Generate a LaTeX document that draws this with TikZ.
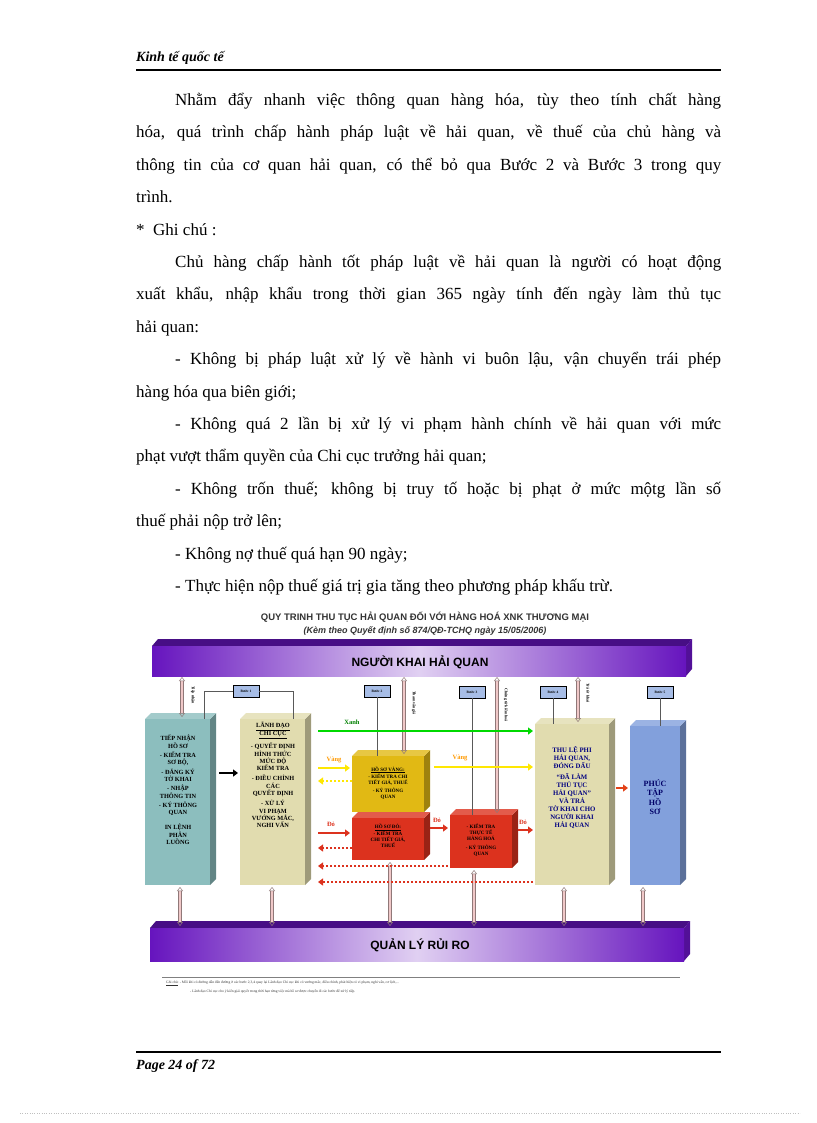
\documentclass[tikz,border=0pt]{standalone}
\usepackage{fontspec}
\setmainfont{Liberation Serif}
\newfontfamily\dsans{Liberation Sans}
\usetikzlibrary{arrows.meta}
\definecolor{purp}{RGB}{102,20,190}
\definecolor{tealb}{RGB}{140,190,190}
\definecolor{beig}{RGB}{225,220,175}
\definecolor{yel}{RGB}{225,185,20}
\definecolor{redb}{RGB}{220,50,30}
\definecolor{blub}{RGB}{130,160,220}
\definecolor{pinkarr}{RGB}{240,200,200}
\newcommand{\cube}[5]{%
 \fill[#5!70!black] (#3,#2) -- (#3+6,#2-6) -- (#3+6,#4-6) -- (#3,#4) -- cycle;
 \fill[#5!80!white] (#1,#2) -- (#1+6,#2-6) -- (#3+6,#2-6) -- (#3,#2) -- cycle;
 \fill[#5] (#1,#2) rectangle (#3,#4);}
\tikzset{
 body/.style={font=\fontsize{17}{32.4}\selectfont,anchor=north west,inner sep=0pt,text width=585pt,align=justify},
 bt/.style={font=\fontsize{6.3}{7.3}\selectfont\bfseries,align=center,inner sep=0pt},
 buoc/.style={draw=black,fill=blub!70!white,minimum width=26pt,minimum height=12pt,inner sep=0pt,font=\fontsize{3.5}{4}\selectfont\bfseries},
 darr/.style={draw=pinkarr!60!black,double=pinkarr,double distance=2.5pt,line width=0.5pt,{Triangle[open,length=4pt,width=6pt]}-{Triangle[open,length=4pt,width=6pt]}},
 sarr/.style={line width=2pt,-{Triangle[length=5pt,width=7pt]}},
 lab/.style={font=\fontsize{6.5}{7}\selectfont\bfseries,inner sep=1pt},
 vlab/.style={font=\fontsize{4}{5}\selectfont\bfseries,rotate=-90,inner sep=0pt},
 conn/.style={draw=gray!70!black,line width=0.7pt}
}
\begin{document}
\begin{tikzpicture}[x=1pt,y=-1pt]
\useasboundingbox (0,0) rectangle (816,1123);
% header / footer
\node[font=\fontsize{14}{16}\selectfont\bfseries\itshape,anchor=west,inner sep=0pt] (hd) at (136,58) {Kinh tế quốc tế};
\draw[line width=1.2pt] (136,70) -- (721,70);
\draw[line width=1.2pt] (136,1052) -- (721,1052);
\node[font=\fontsize{14}{16}\selectfont\bfseries\itshape,anchor=west,inner sep=0pt] (ft) at (136,1066) {Page 24 of 72};
\draw[gray!50,dotted] (20,1113) -- (800,1113);
% body
\node[body] (p1) at (136,93) {%
\hspace*{39pt}Nhằm đẩy nhanh việc thông quan hàng hóa, tùy theo tính chất hàng\linebreak
hóa, quá trình chấp hành pháp luật về hải quan, về thuế của chủ hàng và\linebreak
thông tin của cơ quan hải quan, có thể bỏ qua Bước 2 và Bước 3 trong quy\linebreak
trình.\par
*\ \ Ghi chú :\par
\hspace*{39pt}Chủ hàng chấp hành tốt pháp luật về hải quan là người có hoạt động\linebreak
xuất khẩu, nhập khẩu trong thời gian 365 ngày tính đến ngày làm thủ tục\linebreak
hải quan:\par
\hspace*{39pt}- Không bị pháp luật xử lý về hành vi buôn lậu, vận chuyển trái phép\linebreak
hàng hóa qua biên giới;\par
\hspace*{39pt}- Không quá 2 lần bị xử lý vi phạm hành chính về hải quan với mức\linebreak
phạt vượt thẩm quyền của Chi cục trưởng hải quan;\par
\hspace*{39pt}- Không trốn thuế; không bị truy tố hoặc bị phạt ở mức mộtg lần số\linebreak
thuế phải nộp trở lên;\par
\hspace*{39pt}- Không nợ thuế quá hạn 90 ngày;\par
\hspace*{39pt}- Thực hiện nộp thuế giá trị gia tăng theo phương pháp khấu trừ.};
% diagram title
\node[font=\dsans\fontsize{9.5}{10}\selectfont\bfseries,text=black!80] (t1) at (425,617) {QUY TRINH THU TỤC HẢI QUAN ĐỐI VỚI HÀNG HOÁ XNK THƯƠNG MẠI};
\node[font=\dsans\fontsize{9}{10}\selectfont\bfseries\itshape,text=black!80] (t2) at (425,631) {(Kèm theo Quyết định số 874/QĐ-TCHQ ngày 15/05/2006)};
% bars
\fill[purp!70!black] (152,646) -- (158,639) -- (692,639) -- (686,646) -- cycle;
\fill[purp!80!black] (686,646) -- (692,639) -- (692,669) -- (686,676) -- cycle;
\shade[left color=purp,right color=purp,middle color=purp!20!white] (152,646) rectangle (686,676);
\node[font=\dsans\fontsize{12}{14}\selectfont\bfseries] (top) at (420,662) {NGƯỜI KHAI HẢI QUAN};
\fill[purp!70!black] (150,928) -- (156,921) -- (690,921) -- (684,928) -- cycle;
\fill[purp!80!black] (684,928) -- (690,921) -- (690,954) -- (684,961) -- cycle;
\shade[left color=purp,right color=purp,middle color=purp!20!white] (150,928) rectangle (684,961);
\node[font=\dsans\fontsize{12}{14}\selectfont\bfseries] (bot) at (420,945) {QUẢN LÝ RỦI RO};
% boxes
\cube{145}{719}{210}{885}{tealb}
\cube{240}{719}{305}{885}{beig}
\cube{352}{756}{424}{812}{yel}
\cube{352}{818}{424}{860}{redb}
\cube{450}{815}{512}{868}{redb}
\cube{535}{724}{609}{885}{beig}
\cube{630}{726}{680}{885}{blub}
\node[bt] (b1) at (178,790) {TIẾP NHẬN\\HỒ SƠ\\[2pt]- KIỂM TRA\\SƠ BỘ,\\[2pt]- ĐĂNG KÝ\\TỜ KHAI\\[2pt]- NHẬP\\THÔNG TIN\\[2pt]- KÝ THÔNG\\QUAN\\[8pt]IN LỆNH\\PHÂN\\LUỒNG};
\node[bt] (b2) at (273,775) {\underline{LÃNH ĐẠO}\\\underline{CHI CỤC}\\[3pt]- QUYẾT ĐỊNH\\HÌNH THỨC\\MỨC ĐỘ\\KIỂM TRA\\[3pt]- ĐIỀU CHỈNH\\CÁC\\QUYẾT ĐỊNH\\[3pt]- XỬ LÝ\\VI PHẠM\\VƯỚNG MẮC,\\NGHI VẤN};
\node[bt,font=\fontsize{5}{6}\selectfont\bfseries] (b3) at (388,783) {\underline{HỒ SƠ VÀNG:}\\- KIỂM TRA CHI\\TIẾT GIÁ, THUẾ\\[2pt]- KÝ THÔNG\\QUAN};
\node[bt,font=\fontsize{5}{6}\selectfont\bfseries] (b4) at (388,836) {\underline{HỒ SƠ ĐỎ:}\\- KIỂM TRA\\CHI TIẾT GIÁ,\\THUẾ};
\node[bt,font=\fontsize{5}{6}\selectfont\bfseries] (b5) at (481,840) {- KIỂM TRA\\THỰC TẾ\\HÀNG HOÁ\\[3pt]- KÝ THÔNG\\QUAN};
\node[bt,text=blue!50!black,font=\fontsize{6.8}{8}\selectfont\bfseries] (b6) at (572,788) {THU LỆ PHI\\HẢI QUAN,\\ĐÓNG DẤU\\[3pt]“ĐÃ LÀM\\THỦ TỤC\\HẢI QUAN”\\VÀ TRẢ\\TỜ KHAI CHO\\NGƯỜI KHAI\\HẢI QUAN};
\node[bt,text=blue!40!black,font=\fontsize{8}{9.5}\selectfont\bfseries] (b7) at (655,797) {PHÚC\\TẬP\\HỒ\\SƠ};
% step labels
\node[buoc] (s1) at (246,691) {Bước 1};
\node[buoc] (s2) at (377,691) {Bước 2};
\node[buoc] (s3) at (472,692) {Bước 3};
\node[buoc] (s4) at (553,692) {Bước 4};
\node[buoc] (s5) at (660,692) {Bước 5};
\draw[conn] (204,719) |- (s1.west);
\draw[conn] (s1.east) -| (293,719);
\draw[conn] (s2.south) -- (377,756);
\draw[conn] (s3.south) -- (472,815);
\draw[conn] (s4.south) -- (553,724);
\draw[conn] (s5.south) -- (660,726);
% vertical double arrows
\draw[darr] (182,677) -- (182,717);
\node[vlab] (v1) at (193,695) {Tiếp nhận};
\draw[darr] (404,677) -- (404,754);
\node[vlab] (v2) at (414,703) {Tham vấn giá};
\draw[darr] (497,677) -- (497,813);
\node[vlab] (v3) at (506,705) {Chứng từ kiểm hoá};
\draw[darr] (578,677) -- (578,722);
\node[vlab] (v4) at (588,693) {Trả tờ khai};
\draw[darr] (180,887) -- (180,926);
\draw[darr] (272,887) -- (272,926);
\draw[darr] (390,862) -- (390,926);
\draw[darr] (474,870) -- (474,926);
\draw[darr] (564,887) -- (564,926);
\draw[darr] (643,887) -- (643,926);
% horizontal flows
\draw[sarr,black] (219,773) -- (238,773);
\draw[sarr,green!85!black] (318,731) -- (533,731);
\node[lab,text=green!50!black] (lx) at (352,722) {Xanh};
\draw[sarr,yellow!90!orange] (318,768) -- (350,768);
\node[lab,text=orange!80!yellow] (ly1) at (334,760) {Vàng};
\draw[sarr,yellow!90!orange,dotted] (352,781) -- (318,781);
\draw[sarr,yellow!90!orange] (434,767) -- (533,767);
\node[lab,text=orange!80!yellow] (ly2) at (460,758) {Vàng};
\draw[sarr,redb] (318,833) -- (350,833);
\node[lab,text=redb] (lr1) at (331,824) {Đỏ};
\draw[sarr,redb,dotted] (352,848) -- (318,848);
\draw[sarr,redb] (430,828) -- (448,828);
\node[lab,text=redb] (lr2) at (437,820) {Đỏ};
\draw[sarr,redb] (518,830) -- (533,830);
\node[lab,text=redb] (lr3) at (523,822) {Đỏ};
\draw[sarr,redb,dotted] (448,866) -- (318,866);
\draw[sarr,redb,dotted] (533,882) -- (318,882);
\draw[sarr,redb!80!orange] (616,788) -- (628,788);
% footnote
\draw[gray,line width=1pt] (162,977) -- (680,977);
\node[font=\fontsize{3.6}{5}\selectfont,anchor=west,inner sep=0pt,text=black!80] (fn1) at (166,983) {\underline{Ghi chú}: - Mỗi khi có đường dẫn đến đường ở các bước 2,3,4 quay lại Lãnh đạo Chi cục khi có vướng mắc, điều chỉnh, phát hiện có vi phạm, nghi vấn, cơ lịch,...};
\node[font=\fontsize{3.6}{5}\selectfont,anchor=west,inner sep=0pt,text=black!80] (fn2) at (190,992) {- Lãnh đạo Chi cục cho ý kiến giải quyết trong thời hạn từng việc mà hồ sơ được chuyển đi các bước để xử lý tiếp.};
\end{tikzpicture}
\end{document}
